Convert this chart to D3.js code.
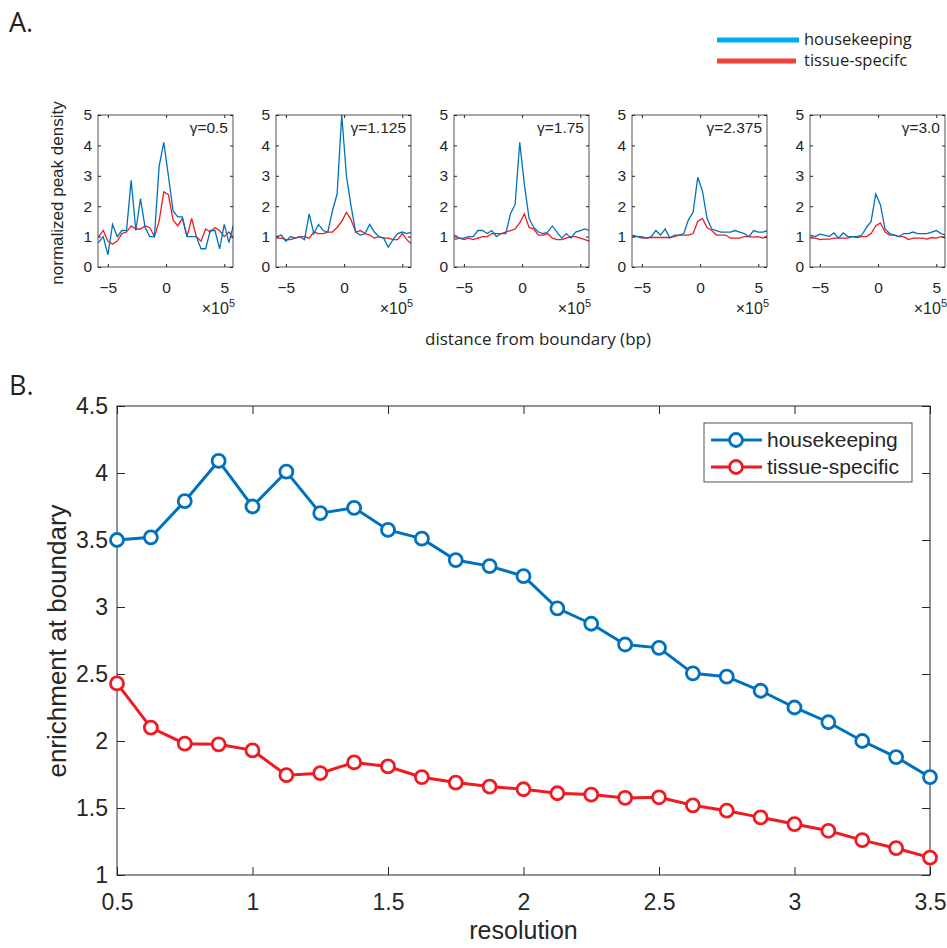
<!DOCTYPE html>
<html>
<head>
<meta charset="utf-8">
<script src="https://cdn.jsdelivr.net/npm/d3@7"></script>
<style>
  body { margin: 0; background: #fff; }
  text { font-family: "Liberation Sans", Arial, sans-serif; fill: #262626; }
  .note { font-family: "Open Sans", "Noto Sans", sans-serif; fill: #231f20; }
  .domain { display: none; }
  .tick line { stroke: #262626; }
</style>
</head>
<body>
<div id="chart"></div>
<script>
// Panel A: peak density profiles around boundaries, one panel per gamma
const gammaLabels = ["γ=0.5", "γ=1.125", "γ=1.75", "γ=2.375", "γ=3.0"];
const binCenters = [-5.8, -5.4, -5.0, -4.6, -4.2, -3.8, -3.4, -3.0, -2.6, -2.2,
                    -1.8, -1.4, -1.0, -0.6, -0.2, 0.2, 0.6, 1.0, 1.4, 1.8,
                    2.2, 2.6, 3.0, 3.4, 3.8, 4.2, 4.6, 5.0, 5.4, 5.8];

const hk1 = [0.8, 1.0, 0.4, 1.4, 1.0, 1.2, 1.2, 2.85, 1.2, 2.25, 1.3, 1.0, 1.0, 3.3, 4.1,
             3.0, 1.85, 1.65, 1.65, 1.0, 1.0, 1.0, 0.6, 0.6, 1.2, 1.2, 0.6, 1.4, 0.8, 1.4];
const ts1 = [1.0, 1.2, 0.85, 0.75, 0.85, 1.1, 1.15, 1.35, 1.25, 1.25, 1.35, 1.3, 1.0, 1.5, 2.47,
             2.38, 1.55, 1.35, 1.6, 1.0, 1.6, 1.0, 0.85, 1.25, 1.15, 1.3, 1.2, 1.0, 1.15, 0.95];
const hk2 = [1.0, 1.05, 0.85, 1.0, 0.95, 1.0, 0.9, 1.75, 1.1, 1.4, 1.2, 1.15, 1.85, 2.4, 5.0,
             3.0, 2.0, 1.15, 1.05, 1.1, 1.4, 1.15, 1.0, 0.95, 0.65, 0.9, 1.1, 1.15, 1.1, 1.15];
const ts2 = [0.95, 0.95, 0.9, 0.9, 0.95, 1.0, 1.0, 0.95, 1.15, 1.1, 1.1, 1.15, 1.15, 1.3, 1.5,
             1.8, 1.55, 1.15, 1.2, 1.1, 1.05, 0.95, 1.0, 0.95, 0.95, 0.9, 0.9, 1.1, 0.9, 0.75];
const hk3 = [1.05, 0.95, 0.95, 1.0, 1.0, 1.2, 1.2, 1.1, 1.2, 1.0, 1.1, 1.1, 1.75, 2.05, 4.1,
             2.7, 1.6, 1.3, 1.15, 1.1, 1.15, 1.35, 1.15, 0.95, 1.1, 0.95, 1.15, 1.2, 1.25, 1.2];
const ts3 = [0.9, 0.95, 0.9, 0.95, 0.9, 0.95, 1.0, 1.0, 1.1, 1.1, 1.1, 1.15, 1.2, 1.25, 1.45,
             1.75, 1.3, 1.25, 1.05, 1.05, 1.1, 0.95, 0.9, 0.9, 0.95, 1.0, 1.0, 0.95, 0.9, 0.85];
const hk4 = [1.05, 1.0, 1.0, 0.95, 1.0, 1.2, 1.05, 1.25, 0.95, 1.05, 1.05, 1.1, 1.55, 1.8, 2.95,
             2.5, 1.6, 1.25, 1.2, 1.15, 1.15, 1.15, 1.2, 1.15, 1.1, 1.0, 1.2, 1.15, 1.15, 1.2];
const ts4 = [1.0, 1.0, 0.95, 0.95, 0.97, 0.97, 0.97, 0.97, 0.97, 1.0, 1.05, 1.05, 1.05, 1.1, 1.5,
             1.6, 1.3, 1.2, 1.05, 1.05, 1.05, 0.95, 0.95, 0.95, 1.0, 1.0, 0.98, 1.0, 0.95, 1.0];
const hk5 = [1.05, 1.0, 1.08, 1.05, 1.0, 1.12, 0.95, 1.12, 1.0, 1.0, 1.0, 1.05, 1.3, 1.5, 2.4,
             2.05, 1.25, 1.1, 1.05, 1.0, 1.1, 1.1, 1.15, 1.1, 1.1, 1.1, 1.15, 1.2, 1.1, 1.05];
const ts5 = [0.95, 0.95, 0.9, 0.92, 0.92, 0.95, 0.95, 0.95, 0.95, 1.0, 0.97, 1.0, 1.0, 1.1, 1.35,
             1.45, 1.15, 1.05, 1.05, 1.0, 1.0, 0.9, 0.95, 0.95, 0.95, 0.92, 0.97, 0.95, 1.0, 0.95];

const hkProfiles = [hk1, hk2, hk3, hk4, hk5];
const tsProfiles = [ts1, ts2, ts3, ts4, ts5];
const aTicksX = [-5, 0, 5];
const aTicksY = [0, 1, 2, 3, 4, 5];

// Panel B: enrichment at boundary vs resolution
const resolution = [0.5, 0.625, 0.75, 0.875, 1.0, 1.125, 1.25, 1.375, 1.5, 1.625, 1.75, 1.875,
                    2.0, 2.125, 2.25, 2.375, 2.5, 2.625, 2.75, 2.875, 3.0, 3.125, 3.25, 3.375, 3.5];
const housekeeping = [3.50, 3.52, 3.79, 4.09, 3.75, 4.01, 3.70, 3.74, 3.575, 3.51, 3.35, 3.305,
                      3.23, 2.99, 2.875, 2.72, 2.695, 2.505, 2.48, 2.375, 2.25, 2.14, 2.0, 1.88, 1.73];
const tissueSpecific = [2.43, 2.10, 1.98, 1.975, 1.93, 1.745, 1.76, 1.84, 1.81, 1.73, 1.69, 1.66,
                        1.64, 1.61, 1.60, 1.575, 1.58, 1.52, 1.48, 1.43, 1.38, 1.33, 1.26, 1.20, 1.13];
const bTicksX = [0.5, 1, 1.5, 2, 2.5, 3, 3.5];
const bTicksY = [1, 1.5, 2, 2.5, 3, 3.5, 4, 4.5];
const seriesNames = ["housekeeping", "tissue-specific"];

const blue = "#0072bd", red = "#f01b22";

const svg = d3.select("#chart")
    .append("svg")
    .attr("width", 947)
    .attr("height", 948);

// ---------- Panel A ----------
svg.append("text").attr("class", "note")
    .attr("x", 9).attr("y", 32)
    .style("font-size", "27px")
    .text("A.");

// top legend
const legA = [["housekeeping", "#00aeef", 40], ["tissue-specifc", "#ef4136", 61]];
legA.forEach(([label, color, y]) => {
    svg.append("line")
        .attr("x1", 717).attr("x2", label === "housekeeping" ? 799 : 796)
        .attr("y1", y).attr("y2", y)
        .attr("stroke", color).attr("stroke-width", 5);
    svg.append("text").attr("class", "note")
        .attr("x", 804).attr("y", y + 5)
        .style("font-size", "16.5px")
        .text(label);
});

const aTop = 115, aBottom = 267, aW = 135;

hkProfiles.forEach((hk, i) => {
    const left = 98 + i * 178;
    const g = svg.append("g").attr("transform", `translate(${left},${aTop})`);
    const h = aBottom - aTop;

    const x = d3.scaleLinear().domain([-5.85, 5.75]).range([0, aW]);
    const y = d3.scaleLinear().domain([0, 5]).range([h, 0]);

    const clipId = "clipA" + i;
    g.append("clipPath").attr("id", clipId)
        .append("rect").attr("width", aW).attr("height", h);

    const line = d3.line()
        .x((d, j) => x(binCenters[j]))
        .y(d => y(d));

    g.append("path").datum(tsProfiles[i])
        .attr("clip-path", `url(#${clipId})`)
        .attr("fill", "none").attr("stroke", red).attr("stroke-width", 1.3)
        .attr("d", line);
    g.append("path").datum(hk)
        .attr("clip-path", `url(#${clipId})`)
        .attr("fill", "none").attr("stroke", blue).attr("stroke-width", 1.3)
        .attr("d", line);

    // axes with inward ticks
    g.append("g")
        .attr("transform", `translate(0,${h})`)
        .call(d3.axisBottom(x).tickValues(aTicksX).tickSize(-3).tickPadding(15).tickFormat(d3.format("")))
        .call(a => a.selectAll("text").style("font-size", "15.5px").attr("fill", "#262626"));
    g.append("g")
        .call(d3.axisLeft(y).tickValues(aTicksY).tickSize(-3).tickPadding(6).tickFormat(d3.format("")))
        .call(a => a.selectAll("text").style("font-size", "15.5px").attr("fill", "#262626"));
    g.append("g")
        .call(d3.axisTop(x).tickValues(aTicksX).tickSize(-3).tickFormat(""));
    g.append("g")
        .attr("transform", `translate(${aW},0)`)
        .call(d3.axisRight(y).tickValues(aTicksY).tickSize(-3).tickFormat(""));

    g.append("rect")
        .attr("width", aW).attr("height", h)
        .attr("fill", "none").attr("stroke", "#262626").attr("stroke-width", 0.8);

    g.append("text")
        .attr("x", aW - 5).attr("y", 18)
        .attr("text-anchor", "end")
        .style("font-size", "15.5px")
        .text(gammaLabels[i]);

    // x10^5 exponent label
    const ex = g.append("text")
        .attr("x", aW + 2).attr("y", h + 47)
        .attr("text-anchor", "end")
        .style("font-size", "16px");
    ex.append("tspan").text("×10");
    ex.append("tspan").attr("dy", -7).style("font-size", "11px").text("5");
});

svg.append("text")
    .attr("transform", `translate(63,193) rotate(-90)`)
    .attr("text-anchor", "middle")
    .style("font-size", "17px")
    .text("normalized peak density");

svg.append("text").attr("class", "note")
    .attr("x", 538).attr("y", 345)
    .attr("text-anchor", "middle")
    .style("font-size", "17px")
    .text("distance from boundary (bp)");

// ---------- Panel B ----------
svg.append("text").attr("class", "note")
    .attr("x", 9).attr("y", 395)
    .style("font-size", "27px")
    .text("B.");

const bLeft = 117, bRight = 930, bTop = 406, bBottom = 875;
const bW = bRight - bLeft, bH = bBottom - bTop;
const gb = svg.append("g").attr("transform", `translate(${bLeft},${bTop})`);

const xB = d3.scaleLinear().domain([0.5, 3.5]).range([0, bW]);
const yB = d3.scaleLinear().domain([1, 4.5]).range([bH, 0]);

gb.append("g")
    .attr("transform", `translate(0,${bH})`)
    .call(d3.axisBottom(xB).tickValues(bTicksX).tickSize(-8).tickPadding(19).tickFormat(d3.format("")))
    .call(a => a.selectAll("text").style("font-size", "23px").attr("fill", "#262626"));
gb.append("g")
    .call(d3.axisLeft(yB).tickValues(bTicksY).tickSize(-8).tickPadding(9).tickFormat(d3.format("")))
    .call(a => a.selectAll("text").style("font-size", "23px").attr("fill", "#262626"));
gb.append("g")
    .call(d3.axisTop(xB).tickValues(bTicksX).tickSize(-8).tickFormat(""));
gb.append("g")
    .attr("transform", `translate(${bW},0)`)
    .call(d3.axisRight(yB).tickValues(bTicksY).tickSize(-8).tickFormat(""));

gb.append("rect")
    .attr("width", bW).attr("height", bH)
    .attr("fill", "none").attr("stroke", "#262626").attr("stroke-width", 1);

const lineB = d3.line()
    .x((d, j) => xB(resolution[j]))
    .y(d => yB(d));

[[housekeeping, blue], [tissueSpecific, red]].forEach(([vals, color]) => {
    gb.append("path").datum(vals)
        .attr("fill", "none").attr("stroke", color).attr("stroke-width", 3)
        .attr("d", lineB);
    gb.selectAll(null).data(vals).join("circle")
        .attr("cx", (d, j) => xB(resolution[j]))
        .attr("cy", d => yB(d))
        .attr("r", 6.5)
        .attr("fill", "#fff").attr("stroke", color).attr("stroke-width", 2.8);
});

// legend box
const legB = gb.append("g").attr("transform", `translate(${704 - bLeft},${423 - bTop})`);
legB.append("rect")
    .attr("width", 208).attr("height", 59)
    .attr("fill", "#fff").attr("stroke", "#262626").attr("stroke-width", 0.8);
[[seriesNames[0], blue, 17], [seriesNames[1], red, 44]].forEach(([label, color, y]) => {
    legB.append("line")
        .attr("x1", 7).attr("x2", 58).attr("y1", y).attr("y2", y)
        .attr("stroke", color).attr("stroke-width", 3);
    legB.append("circle")
        .attr("cx", 32).attr("cy", y).attr("r", 6.5)
        .attr("fill", "#fff").attr("stroke", color).attr("stroke-width", 2.8);
    legB.append("text")
        .attr("x", 63).attr("y", y + 7)
        .style("font-size", "21px")
        .text(label);
});

svg.append("text")
    .attr("transform", `translate(66,641) rotate(-90)`)
    .attr("text-anchor", "middle")
    .style("font-size", "26px")
    .text("enrichment at boundary");

svg.append("text")
    .attr("x", bLeft + bW / 2).attr("y", 939)
    .attr("text-anchor", "middle")
    .style("font-size", "25px")
    .text("resolution");
</script>
</body>
</html>
